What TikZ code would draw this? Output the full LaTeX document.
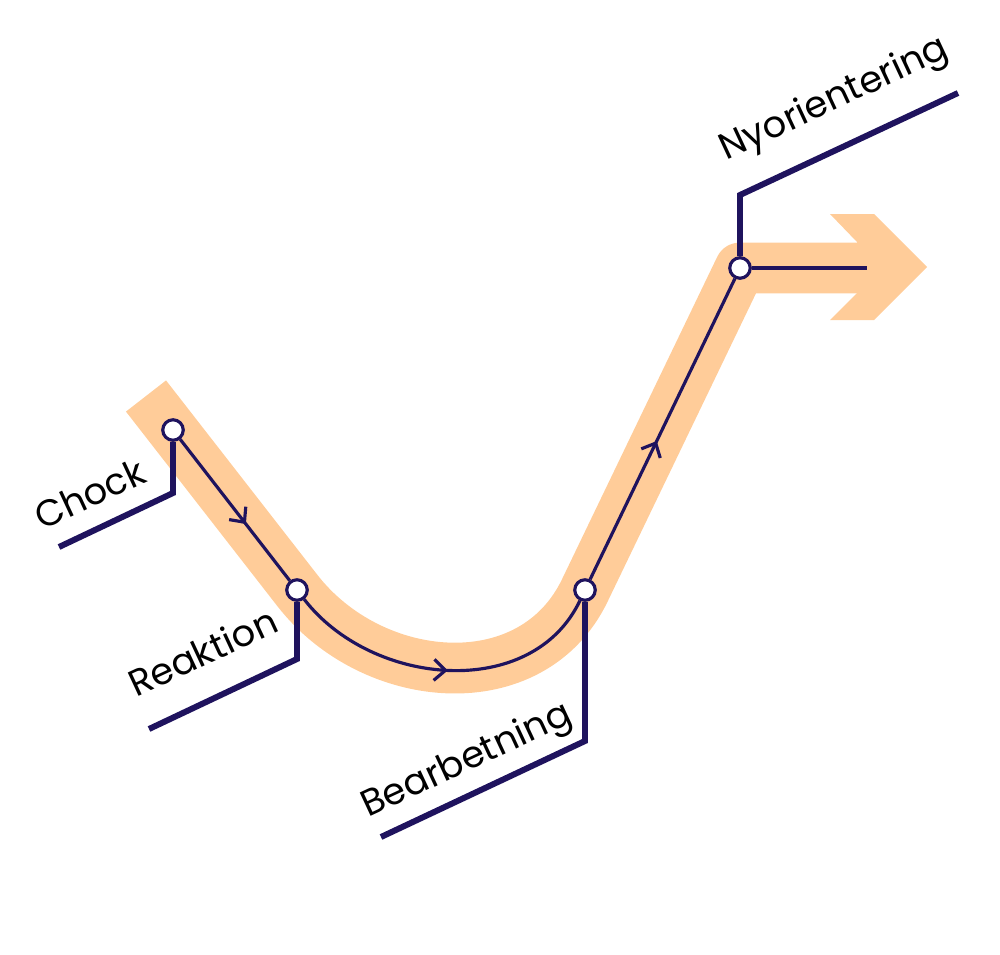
\documentclass[tikz,border=0pt]{standalone}
\usepackage{fontspec}
\setmainfont{Poppins}
\usetikzlibrary{arrows.meta}
\usetikzlibrary{decorations.markings}
\definecolor{bandorange}{RGB}{255,204,153}
\definecolor{navy}{RGB}{31,19,94}

\begin{document}
\begin{tikzpicture}[x=0.02cm, y=-0.02cm,
    band/.style={draw=bandorange, line width=28.9pt, line join=round},
    flow/.style={draw=navy, line width=1.8pt},
    leader/.style={draw=navy, line width=3.4pt, line join=miter},
    stop/.style={circle, draw=navy, fill=white, line width=1.8pt, minimum size=0.41cm, inner sep=0pt},
    phase/.style={font=\fontsize{21}{24}\selectfont, text=black, rotate=25, anchor=base west, inner sep=0pt},
    mid arrow/.style={postaction={decorate}, decoration={markings,
        mark=at position #1 with {\arrow{Straight Barb[length=6.5pt, width=12pt]}}}}]
    \useasboundingbox (0,0) rectangle (1000,954);

    % Coordinates
    \coordinate (start) at (146,396);
    \coordinate (pC) at (173,430);
    \coordinate (pR) at (297,590);
    \coordinate (pB) at (585,590);
    \coordinate (pN) at (740,268);
    \coordinate (bandend) at (870,268);
    \coordinate (tail) at (867,268);

    % Orange band with chevron head
    \draw[band] (start) -- (pR) .. controls (372,687) and (532,701) .. (pB) -- (pN) -- (bandend);
    \fill[bandorange] (830,214) -- (874,214) -- (927,267) -- (874,320) -- (830,320)
        -- (857,293) -- (857,242) -- cycle;

    % Stops
    \node[stop] (chock) at (pC) {};
    \node[stop] (reaktion) at (pR) {};
    \node[stop] (bearbetning) at (pB) {};
    \node[stop] (nyo) at (pN) {};

    % Flow line
    \draw[flow, mid arrow=0.6] (chock) -- (reaktion);
    \draw[flow, mid arrow=0.51] (reaktion) .. controls (372,687) and (532,701) .. (bearbetning);
    \draw[flow, mid arrow=0.46] (bearbetning) -- (nyo);
    \draw[flow] (nyo) -- (tail);

    % Leaders
    \coordinate (kchock) at (173,493);
    \coordinate (echock) at (59,547);
    \coordinate (kreak) at (297,659);
    \coordinate (ereak) at (149,729);
    \coordinate (kbear) at (585,741);
    \coordinate (ebear) at (381,837);
    \coordinate (knyo) at (740,195);
    \coordinate (enyo) at (958,93);
    \draw[leader] (chock) -- (kchock) -- (echock);
    \draw[leader] (reaktion) -- (kreak) -- (ereak);
    \draw[leader] (bearbetning) -- (kbear) -- (ebear);
    \draw[leader] (nyo) -- (knyo) -- (enyo);

    % Labels
    \node[phase] (lchock) at (42,531) {Chock};
    \node[phase] (lreak) at (136,698) {Reaktion};
    \node[phase] (lbear) at (368,818) {Bearbetning};
    \node[phase] (lnyo) at (726,161) {Nyorientering};
\end{tikzpicture}
\end{document}
